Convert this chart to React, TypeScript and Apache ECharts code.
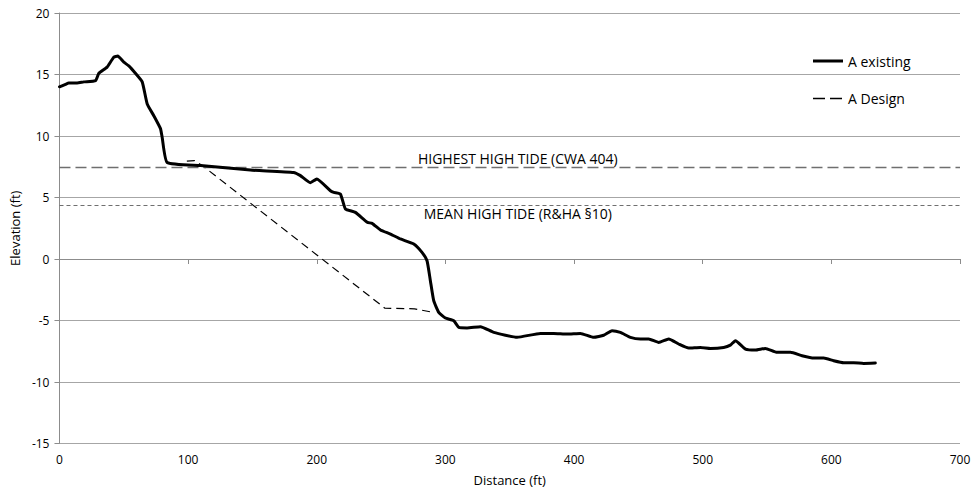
import React, { useEffect, useRef } from "react";
import * as echarts from "echarts";

const existingDistance = [0, 4.7, 7.2, 13.7, 18.9, 28, 30.6, 37, 42.2, 45.3, 50, 53.9, 59, 64.3, 68.2, 73.3, 78.5, 79.8, 83.7, 109.6, 148.4, 182, 187, 195, 200, 210.6, 213.2, 218.4, 222.3, 230, 239.2, 243, 249.5, 257.3, 265, 275.4, 281.8, 285.7, 288.3, 290.9, 294.8, 300, 306.5, 310.4, 316.8, 327.2, 337.6, 355.7, 373.8, 384.2, 394.5, 404.9, 415.3, 423, 429.5, 436, 443.8, 451.6, 458, 465.8, 473.6, 481.3, 489.1, 498.2, 506, 516.3, 521.5, 525.4, 533.2, 541, 548.7, 557.8, 568.2, 577.2, 586.3, 594, 601.8, 609.6, 617.4, 625.1, 634.2];
const existingElevation = [14.0, 14.2, 14.3, 14.3, 14.4, 14.5, 15.1, 15.6, 16.4, 16.5, 16.0, 15.7, 15.1, 14.4, 12.6, 11.65, 10.6, 9.9, 7.85, 7.6, 7.23, 7.04, 6.8, 6.2, 6.5, 5.55, 5.42, 5.28, 4.07, 3.79, 2.98, 2.9, 2.36, 2.03, 1.63, 1.22, 0.54, -0.14, -1.76, -3.39, -4.34, -4.8, -5.02, -5.56, -5.6, -5.5, -5.97, -6.37, -6.05, -6.05, -6.1, -6.05, -6.37, -6.2, -5.83, -5.97, -6.37, -6.5, -6.5, -6.78, -6.5, -6.91, -7.24, -7.19, -7.27, -7.19, -7.0, -6.64, -7.32, -7.4, -7.27, -7.59, -7.59, -7.86, -8.05, -8.05, -8.27, -8.43, -8.43, -8.49, -8.46];

const designDistance = [99, 105, 111, 253, 276, 291];
const designElevation = [7.95, 8.0, 7.6, -4.0, -4.05, -4.35];

const highestHighTide = 7.5;
const meanHighTide = 4.4;
const highestLabel = "HIGHEST HIGH TIDE (CWA 404)";
const meanLabel = "MEAN HIGH TIDE (R&HA \u00a710)";

const seriesNames = ["A existing", "A Design"];
const FONT = "'Open Sans', sans-serif";

export default function App() {
  const ref = useRef<HTMLDivElement>(null);
  useEffect(() => {
    if (!ref.current) return;
    const chart = echarts.init(ref.current, undefined, { renderer: "svg" });
    const existing = existingDistance.map((d, i) => [d, existingElevation[i]]);
    const design = designDistance.map((d, i) => [d, designElevation[i]]);
    chart.setOption({
      animation: false,
      backgroundColor: "#ffffff",
      textStyle: { fontFamily: FONT },
      grid: { left: 59, right: 16, top: 13, bottom: 53.5 },
      graphic: [
        {
          type: "group",
          left: 790,
          top: 42,
          z: 100,
          children: [
            { type: "rect", shape: { x: 0, y: 0, width: 143, height: 76 }, style: { fill: "#ffffff" } },
            { type: "line", shape: { x1: 23, y1: 19, x2: 53, y2: 19 }, style: { stroke: "#000", lineWidth: 3 } },
            { type: "text", x: 58, y: 19, style: { text: seriesNames[0], fontFamily: FONT, fontSize: 14, fill: "#000", verticalAlign: "middle" } },
            { type: "line", shape: { x1: 23, y1: 56.5, x2: 53, y2: 56.5 }, style: { stroke: "#000", lineWidth: 1.6, lineDash: [12, 5] } },
            { type: "text", x: 58, y: 56, style: { text: seriesNames[1], fontFamily: FONT, fontSize: 14, fill: "#000", verticalAlign: "middle" } },
          ],
        },
      ],
      xAxis: {
        type: "value",
        min: 0,
        max: 700,
        interval: 100,
        name: "Distance (ft)",
        nameLocation: "middle",
        nameGap: 30,
        nameTextStyle: { fontFamily: FONT, fontSize: 13, color: "#000" },
        axisLine: { show: true, lineStyle: { color: "#8c8c8c", width: 1 } },
        axisTick: { show: true, length: 5, lineStyle: { color: "#8c8c8c" } },
        axisLabel: { fontFamily: FONT, fontSize: 12, color: "#000", margin: 10 },
        splitLine: { show: false },
      },
      yAxis: {
        type: "value",
        min: -15,
        max: 20,
        interval: 5,
        name: "Elevation (ft)",
        nameLocation: "middle",
        nameGap: 38,
        nameTextStyle: { fontFamily: FONT, fontSize: 13, color: "#000" },
        axisLine: { show: true, lineStyle: { color: "#8c8c8c", width: 1 } },
        axisTick: { show: true, length: 5, lineStyle: { color: "#8c8c8c" } },
        axisLabel: { fontFamily: FONT, fontSize: 12, color: "#000", margin: 10 },
        splitLine: { show: true, lineStyle: { color: "#a6a6a6", width: 1 } },
      },
      series: [
        {
          name: seriesNames[0],
          type: "line",
          data: existing,
          symbol: "none",
          smooth: 0.15,
          lineStyle: { color: "#000", width: 3, join: "round", cap: "round" },
          itemStyle: { color: "#000" },
          z: 5,
        },
        {
          name: seriesNames[1],
          type: "line",
          data: design,
          symbol: "none",
          lineStyle: { color: "#000", width: 1.2, type: [8, 5] },
          itemStyle: { color: "#000" },
          z: 4,
        },
        {
          name: "tides",
          type: "line",
          data: [],
          silent: true,
          markLine: {
            silent: true,
            symbol: "none",
            animation: false,
            data: [
              [
                {
                  coord: [0, highestHighTide],
                  lineStyle: { color: "#6f6f6f", width: 1.3, type: [11, 5] },
                  label: {
                    show: true,
                    formatter: highestLabel,
                    position: "insideMiddleTop",
                    distance: 1,
                    padding: [0, 0, 0, 16],
                    fontFamily: FONT,
                    fontSize: 14,
                    color: "#000",
                  },
                },
                { coord: [700, highestHighTide] },
              ],
              [
                {
                  coord: [0, meanHighTide],
                  lineStyle: { color: "#6f6f6f", width: 1.2, type: [4, 3] },
                  label: {
                    show: true,
                    formatter: meanLabel,
                    position: "insideMiddleBottom",
                    distance: 2,
                    padding: [0, 0, 0, 16],
                    fontFamily: FONT,
                    fontSize: 14,
                    color: "#000",
                  },
                },
                { coord: [700, meanHighTide] },
              ],
            ],
          },
        },
      ],
    });
    return () => chart.dispose();
  }, []);
  return (
    <div style={{ position: "absolute", left: 0, top: 0 }}>
      <div ref={ref} style={{ width: 976, height: 497 }} />
    </div>
  );
}
